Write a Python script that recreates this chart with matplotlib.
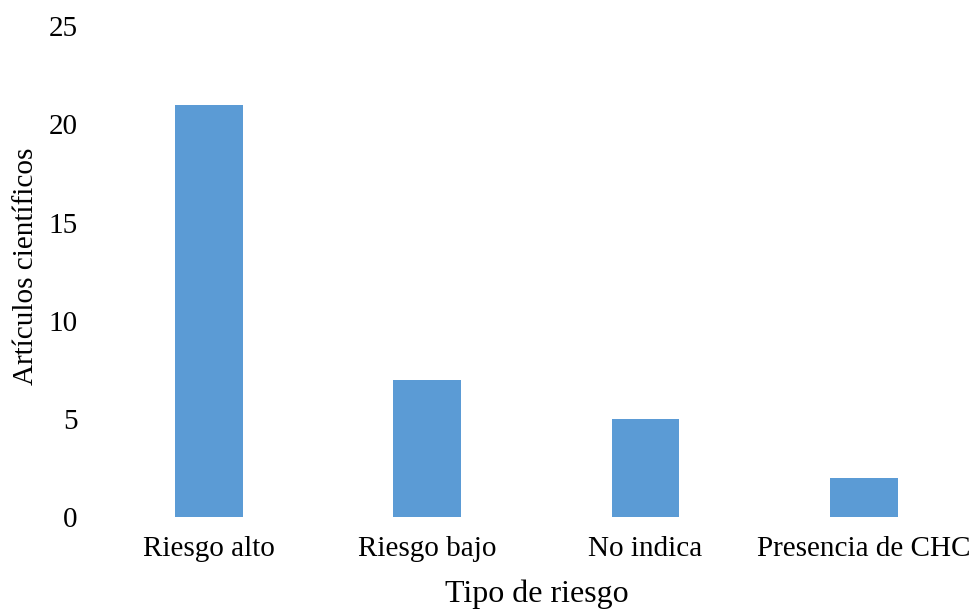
import matplotlib
matplotlib.use("Agg")
import matplotlib.pyplot as plt
import numpy as np

categorias = ["Riesgo alto", "Riesgo bajo", "No indica", "Presencia de CHC"]
articulos = [21, 7, 5, 2]
yticks = [0, 5, 10, 15, 20, 25]

plt.rcParams['font.family'] = ['Liberation Serif', 'DejaVu Serif']

fig = plt.figure(figsize=(9.7, 6.09), dpi=100)
ax = fig.add_axes([0.103, 0.151, 0.9, 0.806])

x = np.arange(len(categorias))
ax.bar(x, articulos, width=0.31, color='#5B9BD5')

ax.set_xlim(-0.5, 3.5)
ax.set_ylim(0, 25)
ax.set_yticks(yticks)
ax.set_xticks(x)
ax.set_xticklabels(categorias)
ax.tick_params(axis='both', length=0, labelsize=21)
ax.tick_params(axis='y', pad=16)
ax.tick_params(axis='x', pad=14)

for s in ax.spines.values():
    s.set_visible(False)

ax.set_xlabel("Tipo de riesgo", fontsize=23, labelpad=12)
ax.set_ylabel("Artículos científicos", fontsize=21, va='center')
ax.yaxis.set_label_coords(-0.085, 0.511)

fig.savefig("out.png", dpi=100)
